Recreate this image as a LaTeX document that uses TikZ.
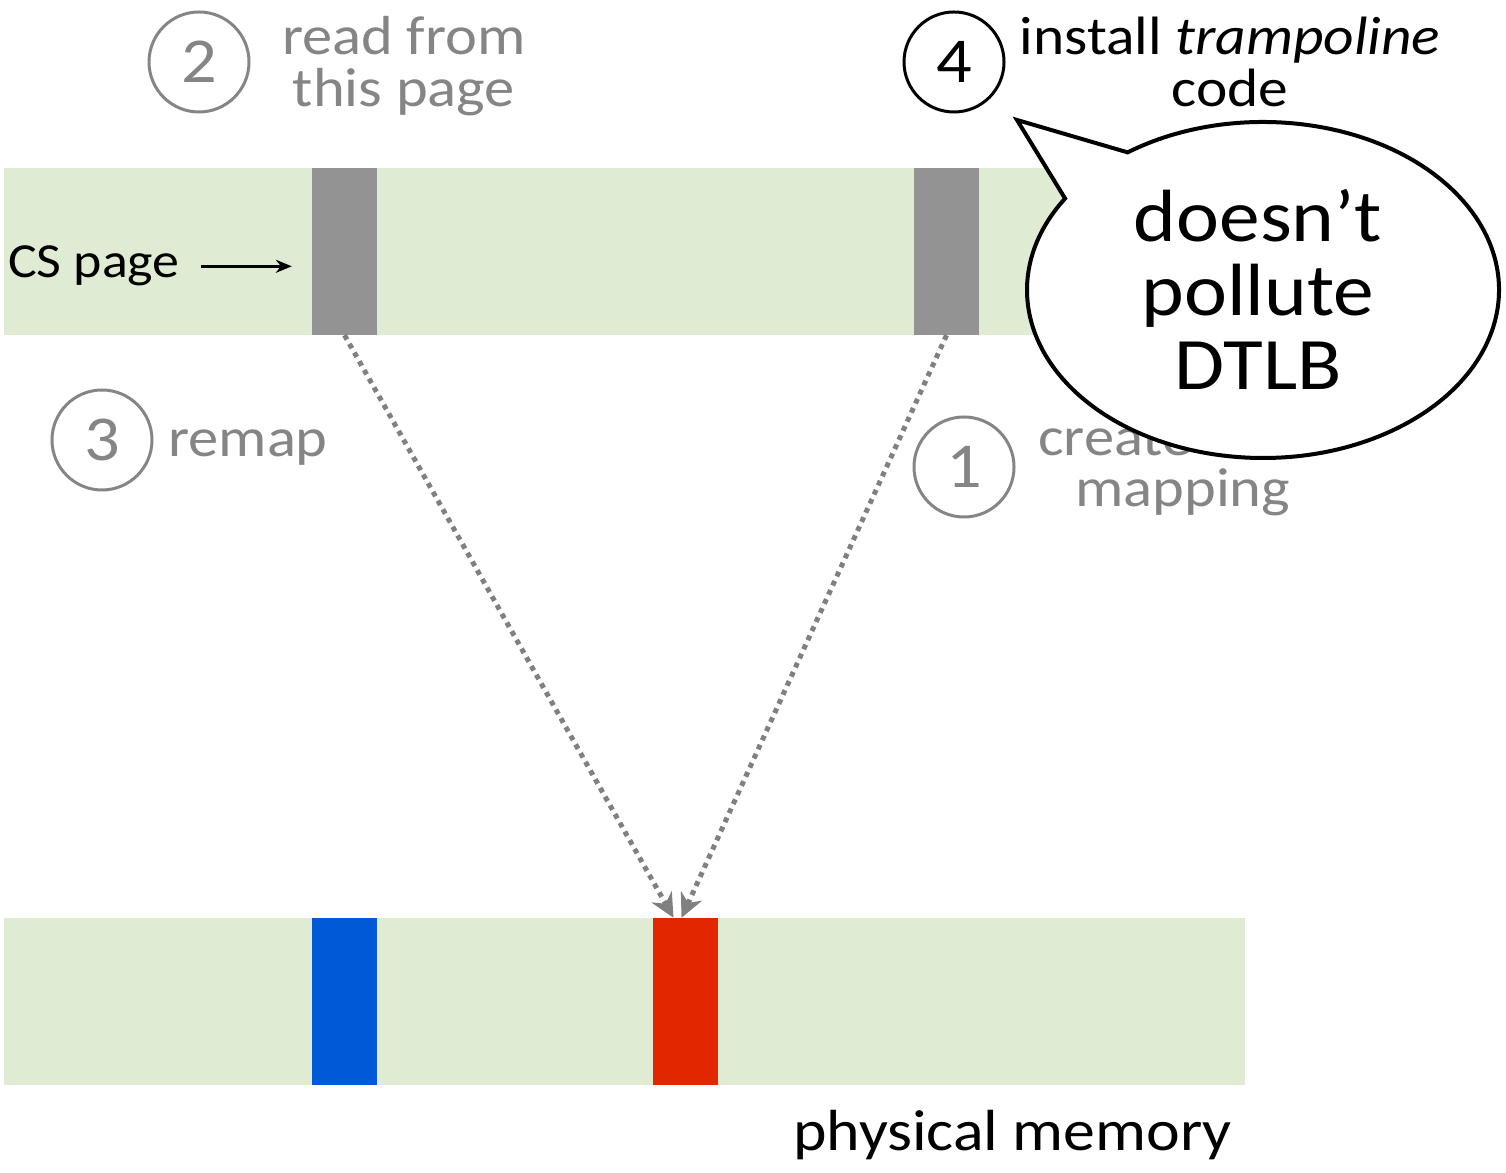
\documentclass[tikz,border=0pt]{standalone}
\usepackage{fontspec}
\setmainfont{Carlito}[FakeStretch=1.1]
\usetikzlibrary{arrows.meta}

\definecolor{pagegreen}{RGB}{223,235,211}
\definecolor{slotgray}{RGB}{147,147,147}
\definecolor{labelgray}{RGB}{133,133,133}
\definecolor{arrowgray}{RGB}{128,128,128}
\definecolor{physblue}{RGB}{0,89,214}
\definecolor{physred}{RGB}{226,39,0}

\begin{document}
\begin{tikzpicture}[x=1pt,y=1pt,
  bar/.style={fill=pagegreen, inner sep=0pt, minimum width=1241pt, minimum height=167pt},
  slot/.style={inner sep=0pt, minimum width=65pt, minimum height=167pt},
  stepnum/.style={circle, draw, line width=3pt, minimum size=100pt, inner sep=0pt,
                  font=\fontsize{64}{64}\selectfont},
  graylabel/.style={text=labelgray, font=\fontsize{55}{52}\selectfont, align=center,
                    inner sep=0pt, anchor=base},
  blacklabel/.style={text=black, font=\fontsize{55}{52}\selectfont, align=center,
                     inner sep=0pt, anchor=base},
  mapline/.style={draw=arrowgray, line width=5pt, dash pattern=on 5pt off 5pt,
                  -{Stealth[length=24pt,width=23pt]}},
  pointer/.style={draw=black, line width=3pt, -{Stealth[length=16pt,width=13pt]}}
]
\useasboundingbox (0,0) rectangle (1506,1172);

% virtual address space (top) and physical memory (bottom)
\node[bar] (vspace) at (624.5,920.5) {};
\node[bar] (pspace) at (624.5,170.5) {};

\node[slot, fill=slotgray] (cspage)   at (344.5,920.5) {};
\node[slot, fill=slotgray] (trampage) at (946.5,920.5) {};
\node[slot, fill=physblue] (blue)     at (344.5,170.5) {};
\node[slot, fill=physred]  (red)      at (685.5,170.5) {};

% CS page pointer
\node[blacklabel, anchor=base west, font=\fontsize{49}{49}\selectfont] (cs) at (8,894) {CS page};
\draw[pointer] ([xshift=21pt]cs.east) -- (cs.east -| cspage.west) [shorten >=20pt];

% both virtual pages map to the same physical frame
\draw[mapline] (cspage.south) -- ([xshift=-12pt]red.north);
\draw[mapline] (trampage.south) -- ([xshift=-4pt]red.north);

% numbered steps (multi-line nodes are placed by their last baseline)
\node[stepnum, draw=labelgray, text=labelgray] (s2) at (199,1110) {2};
\node[graylabel] (read) at (404,1065) {read from\\this page};

\node[stepnum, draw=labelgray, text=labelgray] (s3) at (102,732) {3};
\node[graylabel, anchor=base west] (remap) at (168,715) {remap};

\node[stepnum, draw=labelgray, text=labelgray] (s1) at (964,705) {1};
\node[graylabel, anchor=base west] (create) at (1038,716) {create};
\node[graylabel, anchor=base west] (mapping) at (1075,665) {mapping};

\node[stepnum, draw=black, text=black] (s4) at (954,1110) {4};
\node[blacklabel, font=\fontsize{54}{52}\selectfont] (install) at (1230,1065) {install \textit{trampoline}\\code};

% speech bubble
\coordinate (bubc) at (1263,882);
\coordinate (tip) at (1017,1052);
\path[draw=black, line width=4pt, fill=white, line join=miter]
  ([shift={(147:236 and 168)}]bubc) -- (tip) -- ([shift={(125:236 and 168)}]bubc)
  arc[start angle=125, end angle=-213, x radius=236pt, y radius=168pt] -- cycle;
\node[blacklabel, font=\fontsize{74}{74}\selectfont] (quip) at (1258,782) {doesn’t\\pollute\\DTLB};

\node[blacklabel, anchor=base east, font=\fontsize{58}{58}\selectfont] (phys) at (1232,22) {physical memory};
\end{tikzpicture}
\end{document}
